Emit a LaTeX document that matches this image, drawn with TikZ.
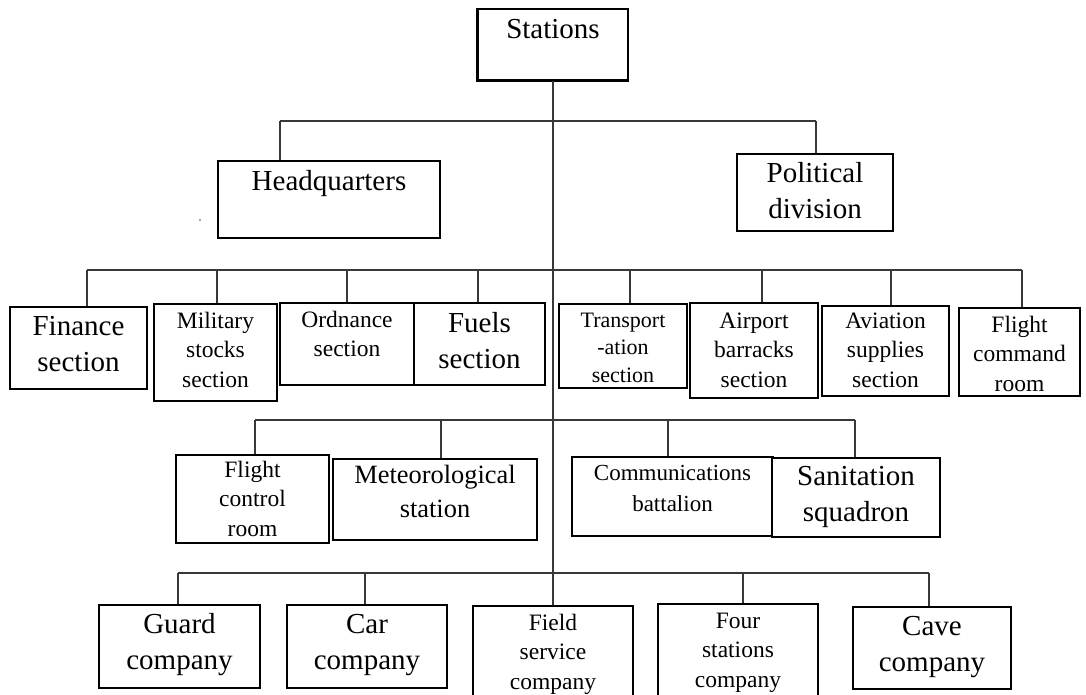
\documentclass[tikz,border=0pt]{standalone}
\usepackage{fontspec}
\setmainfont{Liberation Serif}
\usetikzlibrary{fit}

\tikzset{
  orgbox/.style={draw=black, line width=1.3pt, inner sep=0pt, fill=white},
  conn/.style={draw=black!78, line width=2.4pt},
  label/.style={align=center, inner sep=0pt, anchor=north},
  bigtext/.style={label, font=\fontsize{29}{36}\selectfont},
  medtext/.style={label, font=\fontsize{26.4}{34}\selectfont},
  smalltext/.style={label, font=\fontsize{23.5}{29.5}\selectfont},
  commtext/.style={label, font=\fontsize{23}{31}\selectfont},
  tratext/.style={label, font=\fontsize{22}{27.5}\selectfont},
}

% #1 name, #2-#5 box corners, #6 text style, #7 top of text, #8 text
\newcommand\orgunit[8]{%
  \node[orgbox, fit={(#2,#3)(#4,#5)}] (#1) {};
  \node[#6] (#1-label) at ({(#2+#4)/2},#7) {\strut #8};
}

\begin{document}
\begin{tikzpicture}[x=1pt, y=-1pt]
  \useasboundingbox (0,0) rectangle (1086,694);
  \clip (0,0) rectangle (1086,694);

  % junction points on the horizontal bars
  \coordinate (j-hq) at (280,121);
  \coordinate (j-pd) at (816,121);

  \coordinate (j-fin) at (87,270);
  \coordinate (j-mil) at (217,270);
  \coordinate (j-ord) at (347,270);
  \coordinate (j-fue) at (478,270);
  \coordinate (j-tra) at (630,270);
  \coordinate (j-air) at (762,270);
  \coordinate (j-avi) at (891,270);
  \coordinate (j-fcm) at (1022,270);

  \coordinate (j-fcr) at (255,420);
  \coordinate (j-met) at (441,420);
  \coordinate (j-com) at (668,420);
  \coordinate (j-san) at (855,420);

  \coordinate (j-gua) at (178,573);
  \coordinate (j-car) at (365,573);
  \coordinate (j-fou) at (743,573);
  \coordinate (j-cav) at (929,573);

  % horizontal bars
  \draw[conn] (j-hq) -- (j-pd);
  \draw[conn] (j-fin) -- (j-fcm);
  \draw[conn] (j-fcr) -- (j-san);
  \draw[conn] (j-gua) -- (j-cav);

  % boxes
  \orgunit{st}{478}{9}{628}{80}{bigtext}{12.8}{Stations}
  \draw[line width=3pt] (st.north west) |- (st.south east);

  \orgunit{hq}{218}{161}{440}{238}{bigtext}{164.8}{Headquarters}
  \orgunit{pd}{737}{154}{893}{231}{bigtext}{156.8}{Political\\division}

  \orgunit{fin}{10}{307}{147}{389}{bigtext}{309.8}{Finance\\section}
  \orgunit{mil}{154}{304}{277}{401}{smalltext}{307.35}{Military\\stocks\\section}
  \orgunit{ord}{280}{303}{414}{385}{smalltext}{306.35}{Ordnance\\section}
  \orgunit{fue}{414}{303}{545}{385}{bigtext}{306.8}{Fuels\\section}
  \orgunit{tra}{559}{304}{687}{388}{tratext}{307.75}{Transport\\-ation\\section}
  \orgunit{air}{690}{303}{818}{398}{smalltext}{307.35}{Airport\\barracks\\section}
  \orgunit{avi}{822}{306}{949}{396}{smalltext}{307.35}{Aviation\\supplies\\section}
  \orgunit{fcm}{959}{308}{1080}{396}{smalltext}{311.35}{Flight\\command\\room}

  \orgunit{fcr}{176}{455}{329}{543}{smalltext}{456.35}{Flight\\control\\room}
  \orgunit{met}{333}{459}{537}{540}{medtext}{459.2}{Meteorological\\station}
  \orgunit{com}{572}{457}{773}{536}{commtext}{458.3}{Communications\\battalion}
  \orgunit{san}{772}{458}{940}{537}{bigtext}{459.8}{Sanitation\\squadron}

  \orgunit{gua}{99}{605}{260}{688}{bigtext}{607.8}{Guard\\company}
  \orgunit{car}{287}{605}{447}{688}{bigtext}{607.8}{Car\\company}
  \orgunit{fs}{473}{606}{633}{700}{smalltext}{609.35}{Field\\service\\company}
  \orgunit{fou}{658}{604}{818}{700}{smalltext}{607.35}{Four\\stations\\company}
  \orgunit{cav}{853}{607}{1011}{689}{bigtext}{609.8}{Cave\\company}

  % trunk and drops into each box
  \draw[conn] (st.south) -- (st.south |- fs.north);
  \foreach \n in {hq, pd, fin, mil, ord, fue, tra, air, avi, fcm,
                  fcr, met, com, san, gua, car, fou, cav}
    \draw[conn] (j-\n) -- (j-\n |- \n.north);

  % small speck beside the headquarters box
  \fill[black!45] (200,220) circle (1.2);
\end{tikzpicture}
\end{document}
